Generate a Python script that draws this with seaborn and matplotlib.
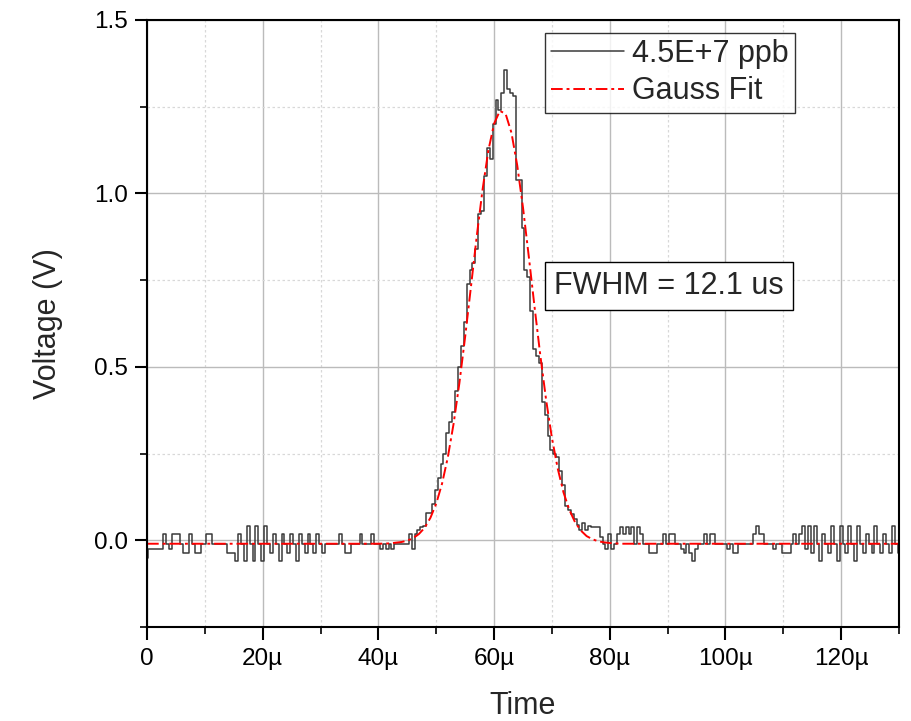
import numpy as np
import pandas as pd
import matplotlib
matplotlib.use("Agg")
import matplotlib.pyplot as plt
from matplotlib.ticker import MultipleLocator
import seaborn as sns

# ---- data (time in microseconds, voltage in V) ----
time_step_us = 0.5
signal_v = [
    -0.050, -0.024, -0.024, -0.024, -0.024, -0.024, 0.017, -0.010, -0.024, 0.017,
    0.017, 0.017, -0.010, -0.037, -0.037, 0.017, -0.010, -0.037, -0.037, -0.010,
    -0.010, 0.017, 0.017, -0.010, -0.010, -0.010, -0.010, -0.010, -0.037, -0.037,
    -0.037, -0.060, 0.017, -0.010, -0.060, 0.040, -0.010, -0.060, 0.040, -0.010,
    -0.060, 0.040, -0.010, -0.037, 0.017, -0.010, -0.060, 0.017, -0.010, -0.037,
    0.017, -0.010, -0.060, 0.017, -0.010, -0.037, 0.017, -0.010, -0.037, 0.017,
    -0.010, -0.037, -0.010, -0.010, -0.010, -0.010, -0.010, 0.017, -0.010, -0.037,
    -0.037, -0.010, -0.010, -0.010, 0.017, -0.010, -0.010, -0.010, 0.017, -0.010,
    -0.010, -0.024, -0.010, -0.024, -0.010, -0.024, -0.010, -0.010, -0.010, -0.010,
    -0.010, 0.017, -0.024, 0.017, 0.030, 0.038, 0.040, 0.078, 0.080, 0.105,
    0.145, 0.180, 0.220, 0.250, 0.310, 0.340, 0.370, 0.430, 0.500, 0.560,
    0.630, 0.740, 0.780, 0.800, 0.840, 0.940, 0.950, 1.050, 1.130, 1.100,
    1.200, 1.270, 1.240, 1.290, 1.356, 1.300, 1.290, 1.280, 1.040, 1.040,
    0.900, 0.780, 0.760, 0.660, 0.550, 0.530, 0.510, 0.400, 0.360, 0.300,
    0.260, 0.250, 0.240, 0.200, 0.160, 0.100, 0.087, 0.075, 0.060, 0.045,
    0.030, 0.050, 0.030, 0.040, 0.037, 0.037, 0.037, 0.010, -0.010, -0.024,
    0.017, -0.024, -0.010, 0.017, 0.037, 0.017, 0.037, 0.017, 0.037, -0.010,
    0.037, 0.017, -0.010, -0.010, -0.037, -0.037, -0.037, -0.010, -0.010, 0.017,
    -0.010, 0.017, 0.017, -0.010, -0.010, -0.024, -0.037, -0.010, -0.037, -0.060,
    -0.024, -0.010, -0.010, 0.017, -0.010, 0.017, 0.017, -0.010, -0.010, -0.010,
    -0.010, -0.024, -0.010, -0.037, -0.037, -0.010, -0.010, -0.010, -0.010, -0.010,
    0.017, 0.040, 0.017, 0.017, -0.010, -0.010, -0.010, -0.024, -0.010, -0.010,
    -0.037, -0.037, -0.037, -0.010, 0.017, -0.010, 0.017, 0.040, -0.024, 0.040,
    -0.037, 0.040, -0.010, -0.060, 0.017, -0.010, -0.037, 0.040, -0.010, -0.060,
    0.040, -0.010, -0.037, 0.040, -0.010, -0.060, 0.040, -0.010, -0.037, 0.017,
    -0.010, -0.037, 0.040, -0.010, -0.037, 0.017, -0.010, -0.037, 0.040, -0.010, -0.037,
]

fit_t_us = [0, 40, 42, 44, 45, 46, 47, 48, 49, 50, 51, 52, 53, 54, 55, 56, 57, 58,
            59, 60, 61, 62, 63, 64, 65, 66, 67, 68, 69, 70, 71, 72, 73, 74, 75,
            76, 77, 78, 79, 80, 82, 130]
fit_v = [-0.010, -0.010, -0.009, -0.005, -0.001, 0.006, 0.018, 0.036, 0.065, 0.106,
         0.163, 0.239, 0.336, 0.453, 0.587, 0.731, 0.876, 1.010, 1.123, 1.201,
         1.238, 1.229, 1.175, 1.081, 0.959, 0.818, 0.672, 0.532, 0.404, 0.295,
         0.207, 0.138, 0.088, 0.052, 0.028, 0.012, 0.003, -0.003, -0.006, -0.008,
         -0.010, -0.010]

x_tick_labels = ["0", "20µ", "40µ", "60µ", "80µ", "100µ", "120µ"]
y_tick_labels = ["0.0", "0.5", "1.0", "1.5"]
legend_labels = ["4.5E+7 ppb", "Gauss Fit"]
annotation = "FWHM = 12.1 us"

# ---- build frames ----
t_sig = np.arange(len(signal_v)) * time_step_us
df_sig = pd.DataFrame({"t": t_sig, "v": signal_v})
df_fit = pd.DataFrame({"t": fit_t_us, "v": fit_v})

sns.set_theme(style="white")
plt.rcParams["font.family"] = ["Liberation Sans", "DejaVu Sans"]

fig = plt.figure(figsize=(9.11, 7.21), dpi=100)
ax = fig.add_axes([0.1614, 0.1304, 0.8254, 0.8419])

sns.lineplot(data=df_sig, x="t", y="v", ax=ax, color="#3a3a3a", lw=1.1,
             drawstyle="steps-mid", label=legend_labels[0], estimator=None)
sns.lineplot(data=df_fit, x="t", y="v", ax=ax, color="red", lw=1.4,
             linestyle=(0, (6, 2, 1.5, 2)), label=legend_labels[1], estimator=None)

ax.set_xlim(0, 130)
ax.set_ylim(-0.25, 1.5)

ax.set_xticks([0, 20, 40, 60, 80, 100, 120])
ax.set_xticklabels(x_tick_labels)
ax.set_yticks([0.0, 0.5, 1.0, 1.5])
ax.set_yticklabels(y_tick_labels)
ax.xaxis.set_minor_locator(MultipleLocator(10))
ax.yaxis.set_minor_locator(MultipleLocator(0.25))

ax.grid(which="major", color="#bbbbbb", lw=1.0, ls="-")
ax.grid(which="minor", color="#d8d8d8", lw=0.9, ls=(0, (2, 2)))
ax.set_axisbelow(True)

ax.tick_params(which="major", direction="out", length=9, width=1.5,
               colors="black", labelsize=17.5, bottom=True, left=True)
ax.tick_params(axis="x", which="major", pad=6)
ax.tick_params(axis="y", which="major", pad=5)
ax.tick_params(which="minor", direction="out", length=5, width=1.2,
               colors="black", bottom=True, left=True)
for sp in ax.spines.values():
    sp.set_visible(True)
    sp.set_color("black")
    sp.set_linewidth(1.5)

ax.set_xlabel("Time", fontsize=22, labelpad=15)
ax.set_ylabel("Voltage (V)", fontsize=22, labelpad=22)

leg = ax.legend(loc="upper left", bbox_to_anchor=(0.529, 0.979), fontsize=22,
                frameon=True, fancybox=False, handlelength=2.4,
                borderpad=0.2, labelspacing=0.25, handletextpad=0.25,
                borderaxespad=0)
leg.get_frame().set_edgecolor("black")
leg.get_frame().set_linewidth(1.0)

ax.text(0.541, 0.562, annotation, transform=ax.transAxes, fontsize=22,
        va="center", ha="left",
        bbox=dict(boxstyle="square,pad=0.3", fc="white", ec="black", lw=1.0))

fig.savefig("out.png", dpi=100)
